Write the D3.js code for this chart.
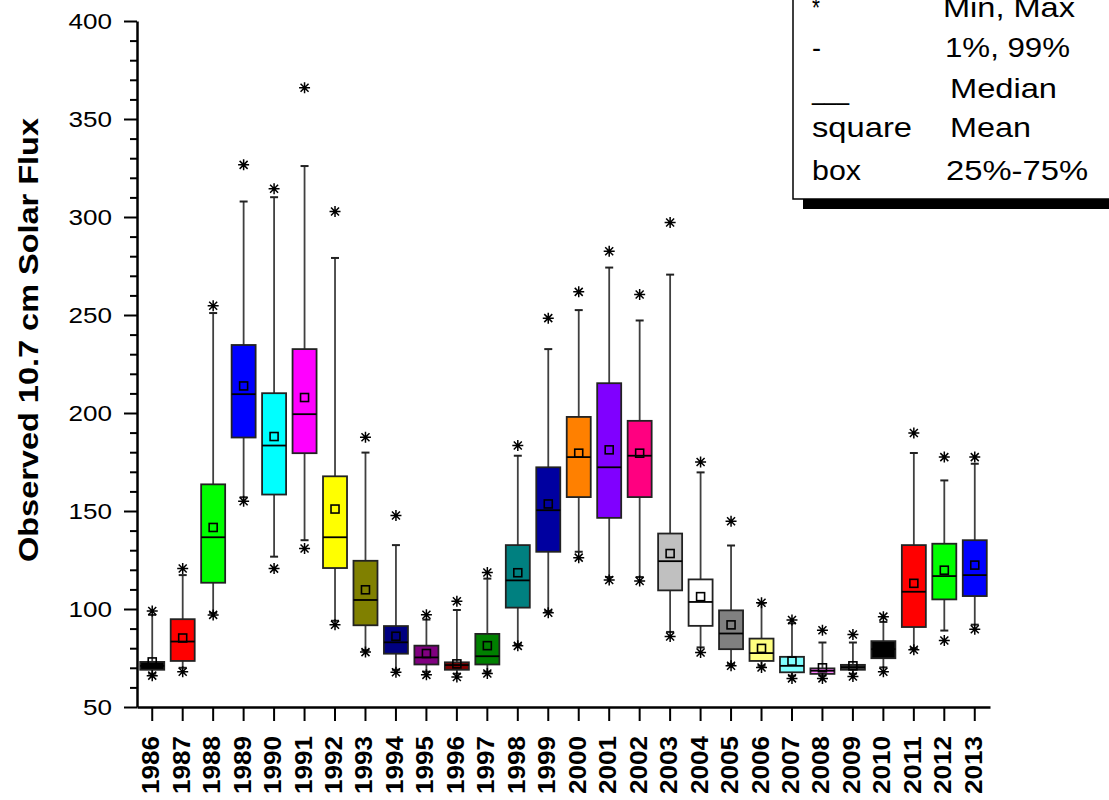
<!DOCTYPE html>
<html>
<head>
<meta charset="utf-8">
<script src="https://cdn.jsdelivr.net/npm/d3@7"></script>
<style>
  body { margin: 0; background: #fff; }
  svg { font-family: "Liberation Sans", Arial, sans-serif; }
</style>
</head>
<body>
<svg id="chart" width="1109" height="800"></svg>
<script>
// yearly flux statistics
const years = ["1986","1987","1988","1989","1990","1991","1992","1993","1994","1995","1996","1997","1998","1999",
  "2000","2001","2002","2003","2004","2005","2006","2007","2008","2009","2010","2011","2012","2013"];
const minVals  = [66, 68, 97, 155, 120.6, 130.9, 92, 78, 67.7, 66.4, 65.3, 67.1, 81.2, 98.1,
  126.2, 114.8, 114.3, 86, 77.8, 71, 70.2, 64.6, 64.6, 65.6, 68, 79.2, 83.9, 89.7];
const p1Vals   = [67, 70, 98, 157, 126.7, 135.1, 94, 79, 69, 68, 67, 68, 82, 99,
  129.2, 116.3, 116.3, 88.3, 80.4, 72, 71, 66, 66, 67, 70.2, 80, 89, 92];
const q1Vals   = [69, 73.5, 113.4, 187.5, 158.4, 179.5, 120.9, 91.7, 77.2, 71.7, 69, 71.7, 100.7, 129.2,
  157.1, 146.5, 157.1, 109.5, 91.4, 79.5, 73.5, 67.7, 66.9, 69, 74.9, 90.8, 104.9, 106.6];
const medians  = [71, 83.4, 136.6, 209.6, 183.4, 199.4, 136.6, 104.6, 83, 75.3, 71.4, 75.9, 114.6, 150.4,
  177.5, 172.3, 178.2, 124.4, 103.6, 87.5, 77.5, 71, 68.5, 70.3, 79.5, 108.8, 116.8, 117.3];
const q3Vals   = [73, 94.8, 163.6, 234.7, 210.1, 232.6, 167.7, 124.6, 91.3, 81.3, 72.8, 87.3, 132.6, 172.3,
  198, 215.2, 196, 138.5, 115.1, 99.3, 84.9, 75.6, 69.7, 71.5, 83.6, 132.6, 133.3, 135.1];
const p99Vals  = [97, 117.3, 251, 307.9, 310.1, 326, 279.1, 179.8, 132.6, 94.6, 99.5, 115.5, 178.2, 232.6,
  252.5, 274.2, 247.2, 270.6, 169.7, 132.4, 102.9, 92.7, 82.9, 82.9, 93.4, 179.6, 165.6, 174.1];
const maxVals  = [99, 120.7, 254.7, 326.6, 314.4, 365.9, 302.8, 187.6, 147.7, 97.1, 104, 118.6, 183.4, 248.4,
  261.8, 282.5, 260.5, 297.2, 175, 144.8, 103.2, 94.4, 89.2, 87, 96.1, 189.8, 177.5, 177.5];
const means    = [73, 85.2, 141.6, 213.8, 188, 207.9, 151, 109.8, 86.1, 77.3, 72, 81.3, 118.5, 153.6,
  179.5, 181.2, 179.5, 128.3, 106.3, 91.9, 79.9, 73.4, 70, 71, 79.5, 113.1, 119.8, 122.4];
const boxColors = ["#000000","#ff0000","#00ff00","#0000ff","#00ffff","#ff00ff","#ffff00","#808000","#000080",
  "#800080","#800000","#008000","#008080","#0000a0","#ff8000","#8000ff","#ff0080","#c0c0c0","#ffffff",
  "#808080","#ffff80","#80ffff","#ff80ff","#404040","#000000","#ff0000","#00ff00","#0000ff"];
const yTicks = [50, 100, 150, 200, 250, 300, 350, 400];
const legendRows = [["*", "Min, Max"], ["-", "1%, 99%"], ["___", "Median"], ["square", "Mean"], ["box", "25%-75%"]];

const rows = years.map((yr, i) => ({
  year: yr, min: minVals[i], p1: p1Vals[i], q1: q1Vals[i], med: medians[i],
  q3: q3Vals[i], p99: p99Vals[i], max: maxVals[i], mean: means[i], color: boxColors[i]
}));

const svg = d3.select("#chart");
svg.append("rect").attr("width", 1109).attr("height", 800).attr("fill", "#fff");

const x = d3.scaleBand().domain(years).range([137, 990]);
const y = d3.scaleLinear().domain([50, 400]).range([707, 21]);
const cx = d => x(d.year) + x.bandwidth() / 2;
const boxW = 24, capW = 8, whiskColor = "#404040";

// boxes
const g = svg.append("g").selectAll("g").data(rows).join("g");

g.append("line").attr("x1", cx).attr("x2", cx)
  .attr("y1", d => y(d.p1)).attr("y2", d => y(d.q1))
  .attr("stroke", whiskColor).attr("stroke-width", 1.8);
g.append("line").attr("x1", cx).attr("x2", cx)
  .attr("y1", d => y(d.q3)).attr("y2", d => y(d.p99))
  .attr("stroke", whiskColor).attr("stroke-width", 1.8);
["p1", "p99"].forEach(k => {
  g.append("line").attr("x1", d => cx(d) - capW / 2).attr("x2", d => cx(d) + capW / 2)
    .attr("y1", d => y(d[k])).attr("y2", d => y(d[k]))
    .attr("stroke", "#222").attr("stroke-width", 2);
});

g.append("rect")
  .attr("x", d => cx(d) - boxW / 2).attr("width", boxW)
  .attr("y", d => y(d.q3)).attr("height", d => y(d.q1) - y(d.q3))
  .attr("fill", d => d.color).attr("stroke", "#222").attr("stroke-width", 1.8);

g.append("line").attr("x1", d => cx(d) - boxW / 2).attr("x2", d => cx(d) + boxW / 2)
  .attr("y1", d => y(d.med)).attr("y2", d => y(d.med))
  .attr("stroke", "#000").attr("stroke-width", 1.8);

g.append("rect")
  .attr("x", d => cx(d) - 4).attr("y", d => y(d.mean) - 4)
  .attr("width", 8).attr("height", 8)
  .attr("fill", "none").attr("stroke", "#000").attr("stroke-width", 1.6);

// asterisks at min and max
const star = "M0,-5.5V5.5M-5.5,0H5.5M-4,-4L4,4M-4,4L4,-4";
["min", "max"].forEach(k => {
  g.append("path")
    .attr("transform", d => `translate(${cx(d)},${y(d[k])})`)
    .attr("d", star).attr("fill", "none")
    .attr("stroke", "#000").attr("stroke-width", 1.5);
});

// y axis
const yAxis = svg.append("g").attr("transform", "translate(137,0)")
  .call(d3.axisLeft(y).tickValues(yTicks).tickSize(13).tickSizeOuter(0).tickPadding(12));
svg.append("g").attr("transform", "translate(137,0)")
  .call(d3.axisLeft(y).tickValues(d3.range(60, 400, 10).filter(v => v % 50 !== 0))
    .tickSize(7).tickFormat(""))
  .call(a => a.select(".domain").remove());
svg.selectAll(".tick line").attr("stroke", "#000").attr("stroke-width", 2);
yAxis.select(".domain").attr("stroke", "#000").attr("stroke-width", 2.5);
yAxis.selectAll("text")
  .attr("font-family", "Liberation Sans, Arial, sans-serif")
  .attr("font-size", 22).attr("fill", "#000")
  .attr("dy", "0.36em")
  .attr("textLength", d => String(d).length * 14.5)
  .attr("lengthAdjust", "spacingAndGlyphs");

// x axis
const xAxis = svg.append("g").attr("transform", "translate(0,707)")
  .call(d3.axisBottom(x).tickSize(14).tickSizeOuter(0));
xAxis.select(".domain").attr("stroke", "#000").attr("stroke-width", 2.5);
xAxis.selectAll(".tick line").attr("stroke", "#000").attr("stroke-width", 2);
xAxis.selectAll("text")
  .attr("font-family", "Liberation Sans, Arial, sans-serif")
  .attr("font-size", 24).attr("font-weight", "bold").attr("fill", "#000")
  .attr("transform", "rotate(-90)")
  .attr("text-anchor", "end")
  .attr("x", -29).attr("y", 7).attr("dy", null)
  .attr("textLength", 58).attr("lengthAdjust", "spacingAndGlyphs");

// y title
svg.append("text")
  .attr("transform", "translate(38,340) rotate(-90)")
  .attr("text-anchor", "middle")
  .attr("font-size", 27).attr("font-weight", "bold")
  .attr("textLength", 444).attr("lengthAdjust", "spacingAndGlyphs")
  .text("Observed 10.7 cm Solar Flux");

// legend with drop shadow
const lg = svg.append("g");
lg.append("rect").attr("x", 803).attr("y", 0).attr("width", 400).attr("height", 209).attr("fill", "#000");
lg.append("rect").attr("x", 793).attr("y", -10).attr("width", 400).attr("height", 209)
  .attr("fill", "#fff").attr("stroke", "#000").attr("stroke-width", 1.5);
const leftW = [8, 9, 37, 100, 49];
const rightW = [132, 125, 107, 81, 142];
const baseY = [17, 57, 98, 137, 180];
const rightX = [943, 945, 950, 950, 946];
legendRows.forEach((r, i) => {
  lg.append("text").attr("x", 812).attr("y", i === 2 ? 99 : baseY[i])
    .attr("font-size", 28).attr("textLength", leftW[i]).attr("lengthAdjust", "spacingAndGlyphs")
    .text(r[0]);
  lg.append("text").attr("x", rightX[i]).attr("y", baseY[i])
    .attr("font-size", 28).attr("textLength", rightW[i]).attr("lengthAdjust", "spacingAndGlyphs")
    .text(r[1]);
});
</script>
</body>
</html>
